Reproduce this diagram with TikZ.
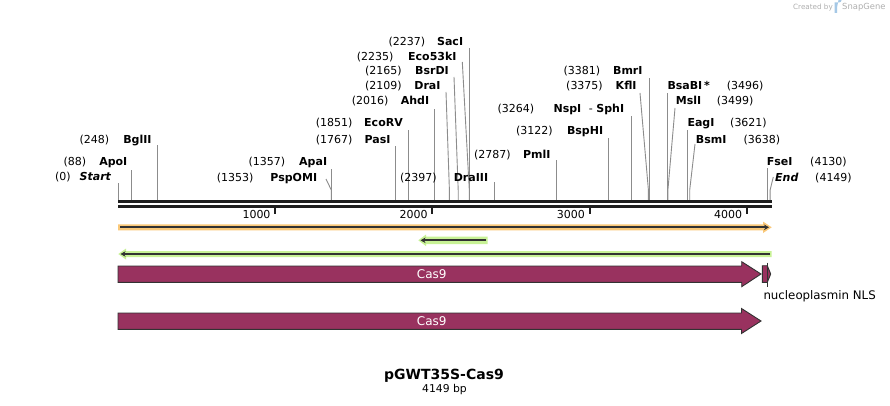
\documentclass[tikz,border=0pt]{standalone}
\usepackage{fontspec}
\setmainfont{DejaVu Sans}
\usetikzlibrary{arrows.meta}
\definecolor{casfill}{RGB}{153,50,95}
\definecolor{orhalo}{RGB}{250,200,120}
\definecolor{grhalo}{RGB}{200,242,150}
\definecolor{darkln}{RGB}{50,50,50}
\definecolor{bbcol}{RGB}{30,30,30}
\definecolor{sitegray}{RGB}{140,140,140}
\definecolor{logogray}{RGB}{175,175,175}
\definecolor{logoblue}{RGB}{165,200,230}
\newcommand\lname[6]{%
  \node[numtxt,anchor=base west] (n#1) at (#2,#4) {(#5)};
  \node[nametxt,anchor=base east] (e#1) at (#3,#4) {#6};}
\newcommand\rname[6]{%
  \node[nametxt,anchor=base west] (e#1) at (#3,#4) {#6};
  \node[numtxt,anchor=base west] (n#1) at (#2,#4) {(#5)};}
\newcommand\siteV[3]{%
  \coordinate (sb#1) at (#2,200.5);
  \coordinate (st#1) at (#2,#3);
  \draw[siteline] (sb#1) -- (st#1);}
\newcommand\siteA[4]{%
  \coordinate (sb#1) at (#2,200.5);
  \coordinate (sk#1) at (#2,190);
  \coordinate (st#1) at (#3,#4);
  \draw[siteline] (sb#1) -- (sk#1) -- (st#1);}
\newcommand\tickmark[3]{%
  \coordinate (ka#1) at (#2,207);
  \coordinate (kb#1) at (#2,214.3);
  \draw[line width=2pt, bbcol] (ka#1) -- (kb#1);
  \node[numtxt, anchor=base east] (kl#1) at (#2-4.5,218.5) {#3};}
\begin{document}
\begin{tikzpicture}[x=1pt,y=-1pt,
  numtxt/.style={font=\fontsize{11}{13}\selectfont, inner sep=0pt, text=black},
  nametxt/.style={font=\fontsize{11}{13}\selectfont\bfseries, inner sep=0pt, text=black},
  siteline/.style={draw=sitegray, line width=0.9pt},
  casshape/.style={fill=casfill, draw=darkln, line width=0.9pt, line join=miter},
  castext/.style={font=\fontsize{12}{14}\selectfont, text=white, inner sep=0pt},
  darkarrow/.style={draw=darkln, line width=1.8pt, -{Stealth[length=5pt,width=5.5pt]}}]
\useasboundingbox (0,0) rectangle (890,406);
\fill[white] (0,0) rectangle (890,406);

% created by
\node[font=\fontsize{7.2}{8}\selectfont, text=logogray, anchor=west, inner sep=0pt] (cb) at (793,7.5) {Created by};
\fill[logoblue] (834.5,2.5) rectangle (837,13) (837,2.5) -- (839,2.5) arc[start angle=90, end angle=-90, radius=2.6] -- (837,7.7) -- cycle;
\node[font=\fontsize{8.4}{9}\selectfont, text=logogray, anchor=west, inner sep=0pt] (sg) at (842,7.5) {SnapGene};

% site lines
\siteV{start}{118}{183}
\siteV{apoi}{131.8}{170}
\siteV{bglii}{157}{145}
\siteA{pspomi}{331.3}{326}{179}
\siteV{apai}{331.3}{169}
\siteV{pasi}{395.7}{146}
\siteV{ecorv}{408.9}{130}
\siteV{ahdi}{434.8}{109}
\siteA{drai}{449.4}{446}{92}
\siteA{bsrdi}{458.2}{454}{77}
\siteA{eco}{469.3}{462.3}{62}
\siteV{saci}{469.6}{48}
\siteV{draiii}{494.7}{182}
\siteV{pmli}{556}{160}
\siteV{bsphi}{608.6}{138}
\siteV{nspi}{631}{116}
\siteA{kfli}{648.4}{640}{93}
\siteV{bmri}{649.4}{78}
\siteV{bsabi}{667.4}{93}
\siteA{msli}{667.9}{675}{108}
\siteV{eagi}{687.1}{130}
\siteA{bsmi}{689.7}{695}{144}
\siteV{fsei}{767.1}{168}
\siteA{end}{770.1}{773.3}{177}

% labels left
\lname{start}{55}{111.5}{180.5}{0}{\textit{Start}}
\lname{apoi}{63.3}{127.5}{165}{88}{ApoI}
\lname{bglii}{79.3}{151.7}{143}{248}{BglII}
\lname{apai}{248.3}{327.3}{165}{1357}{ApaI}
\lname{pspomi}{216.7}{317.3}{181}{1353}{PspOMI}
\lname{pasi}{315.7}{390.7}{143}{1767}{PasI}
\lname{ecorv}{315.7}{403}{127}{1851}{EcoRV}
\lname{ahdi}{351.7}{429.3}{105}{2016}{AhdI}
\lname{drai}{365}{440.7}{90}{2109}{DraI}
\lname{bsrdi}{365}{449}{75}{2165}{BsrDI}
\lname{eco}{356.7}{456.7}{61}{2235}{Eco53kI}
\lname{saci}{388.3}{463.3}{46}{2237}{SacI}
\lname{draiii}{400}{488.3}{181}{2397}{DraIII}
\lname{pmli}{474}{550.7}{158}{2787}{PmlI}
\lname{bsphi}{516}{603.3}{135}{3122}{BspHI}
\lname{nspi}{497.3}{624.3}{113}{3264}{NspI\ \ \mdseries-\ \bfseries SphI}
\lname{kfli}{566}{636.7}{90}{3375}{KflI}
\lname{bmri}{563.3}{642.7}{75}{3381}{BmrI}
% labels right
\rname{bsabi}{726.7}{667.3}{90}{3496}{BsaBI\,*}
\rname{msli}{716.7}{675.7}{105}{3499}{MslI}
\rname{eagi}{730}{687.3}{127}{3621}{EagI}
\rname{bsmi}{743.3}{695.7}{143}{3638}{BsmI}
\rname{fsei}{810}{766.7}{165}{4130}{FseI}
\rname{end}{815}{775}{181}{4149}{\textit{End}}

% backbone
\coordinate (bl1) at (118,201.7); \coordinate (br1) at (771.5,201.7);
\coordinate (bl2) at (118,206.3); \coordinate (br2) at (771.5,206.3);
\draw[line width=2.7pt, bbcol] (bl1) -- (br1);
\draw[line width=2.7pt, bbcol] (bl2) -- (br2);
\tickmark{1}{275.2}{1000}
\tickmark{2}{432.4}{2000}
\tickmark{3}{589.6}{3000}
\tickmark{4}{746.8}{4000}

% orange feature (forward)
\fill[orhalo] (118,224.3) -- (763,224.3) -- (763,221.6) -- (771.7,227.3) -- (763,233) -- (763,230.3) -- (118,230.3) -- cycle;
\coordinate (oa) at (120,227.3); \coordinate (ob) at (769,227.3);
\draw[darkarrow] (oa) -- (ob);

% short green feature (reverse)
\fill[grhalo] (487.7,236.7) -- (426,236.7) -- (426,234.5) -- (418.3,240.3) -- (426,246.1) -- (426,244) -- (487.7,244) -- cycle;
\coordinate (ga) at (486,240.3); \coordinate (gb) at (420.5,240.3);
\draw[darkarrow] (ga) -- (gb);

% long green feature (reverse)
\fill[grhalo] (771.7,251) -- (126,251) -- (126,248.5) -- (118.3,254) -- (126,259.5) -- (126,257) -- (771.7,257) -- cycle;
\coordinate (la) at (770,254); \coordinate (lb) at (120.5,254);
\draw[darkarrow] (la) -- (lb);

% Cas9 arrow 1
\draw[casshape] (118,266) -- (741.7,266) -- (741.7,261.7) -- (761,274) -- (741.7,286.7) -- (741.7,282.3) -- (118,282.3) -- cycle;
\node[castext] (cas1) at (431.7,274) {Cas9};
% NLS
\draw[casshape] (762.3,265.7) -- (767.3,265.7) -- (770.7,274) -- (767.3,282.3) -- (762.3,282.3) -- cycle;
\coordinate (nla) at (767.3,262.7); \coordinate (nlb) at (767.3,287);
\draw[darkln, line width=0.8pt] (nla) -- (nlb);
\node[font=\fontsize{11.8}{14}\selectfont, anchor=base west, inner sep=0pt] (nls) at (763.3,299.3) {nucleoplasmin NLS};

% Cas9 arrow 2
\draw[casshape] (118,313) -- (741.5,313) -- (741.5,308.5) -- (761,321) -- (741.5,333.5) -- (741.5,329.3) -- (118,329.3) -- cycle;
\node[castext] (cas2) at (431.7,321.2) {Cas9};

% title
\node[font=\fontsize{14}{16}\selectfont\bfseries, inner sep=0pt] (title) at (444,376) {pGWT35S-Cas9};
\node[font=\fontsize{10.8}{12}\selectfont, inner sep=0pt] (size) at (444.5,390) {4149 bp};
\end{tikzpicture}
\end{document}
